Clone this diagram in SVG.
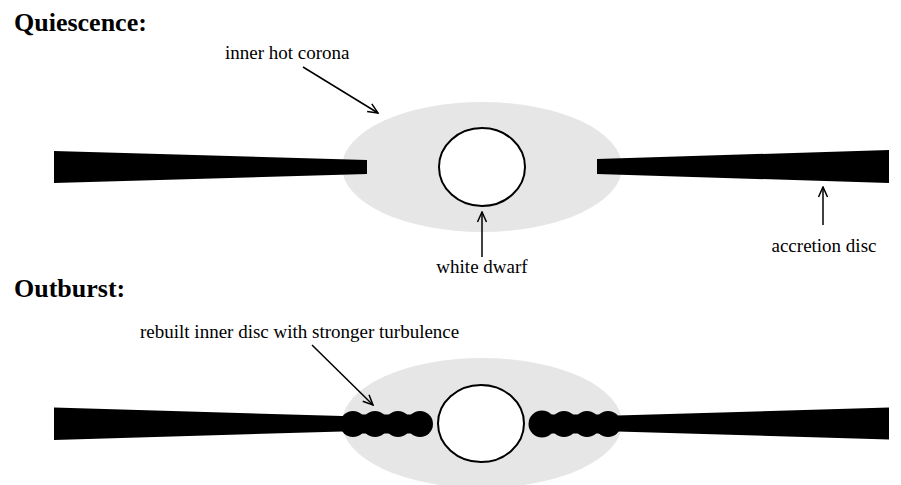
<svg xmlns="http://www.w3.org/2000/svg" width="901" height="485" viewBox="0 0 901 485">
  <defs>
    <style>
      .title { font-family: "Liberation Serif", "Times New Roman", serif; font-weight: bold; font-size: 26px; fill: #000; }
      .label { font-family: "Liberation Serif", "Times New Roman", serif; font-size: 19px; fill: #000; }
      .corona { fill: #e6e6e6; }
      .dwarf { fill: #fff; stroke: #000; stroke-width: 2; }
      .disc { fill: #000; }
      .conn { stroke: #000; stroke-width: 1.5; fill: none; marker-end: url(#arrow); }
    </style>
    <marker id="arrow" viewBox="0 0 12 12" refX="11" refY="6" markerWidth="12" markerHeight="12" markerUnits="userSpaceOnUse" orient="auto">
      <path d="M1,1.5 L11,6 L1,10.5" fill="none" stroke="#000" stroke-width="1.5"/>
    </marker>
  </defs>
  <rect width="901" height="485" fill="#fff"/>

  <!-- Quiescence state -->
  <text class="title" x="14" y="31">Quiescence:</text>
  <g id="corona-quiescence">
    <ellipse class="corona" cx="482" cy="167" rx="140" ry="65"/>
  </g>
  <g id="disc-left-quiescence">
    <polygon class="disc" points="54,151 367,160 367,174 54,183"/>
  </g>
  <g id="disc-right-quiescence">
    <polygon class="disc" points="597,159 889,150 889,183 597,174"/>
  </g>
  <g id="dwarf-quiescence">
    <ellipse class="dwarf" cx="482" cy="167" rx="43" ry="39"/>
  </g>
  <g id="label-corona"><text class="label" x="225" y="59">inner hot corona</text></g>
  <g id="label-dwarf"><text class="label" x="482" y="273" text-anchor="middle">white dwarf</text></g>
  <g id="label-disc"><text class="label" x="824" y="252" text-anchor="middle">accretion disc</text></g>

  <!-- Outburst state -->
  <text class="title" x="14" y="297">Outburst:</text>
  <g id="corona-outburst">
    <ellipse class="corona" cx="482" cy="423" rx="140" ry="65"/>
  </g>
  <!-- turbulent inner disc: overlapping blobs on a thick core -->
  <g id="disc-left-outburst">
    <polygon class="disc" points="54,407.5 360,416.5 360,431 54,440"/>
    <rect class="disc" x="353" y="414.5" width="67" height="19"/>
    <circle class="disc" cx="353" cy="424" r="13"/>
    <circle class="disc" cx="375" cy="424" r="13"/>
    <circle class="disc" cx="398" cy="424" r="13"/>
    <circle class="disc" cx="420" cy="424" r="13"/>
  </g>
  <g id="disc-right-outburst">
    <polygon class="disc" points="600,416 889,407.5 889,439.5 600,431"/>
    <rect class="disc" x="542" y="414.5" width="66" height="19"/>
    <circle class="disc" cx="542" cy="424" r="13.5"/>
    <circle class="disc" cx="564" cy="424" r="13"/>
    <circle class="disc" cx="587" cy="424" r="13"/>
    <circle class="disc" cx="608" cy="424" r="13"/>
  </g>
  <g id="dwarf-outburst">
    <ellipse class="dwarf" cx="481" cy="423.5" rx="43" ry="38.5"/>
  </g>
  <g id="label-turbulence"><text class="label" x="140" y="338">rebuilt inner disc with stronger turbulence</text></g>

  <!-- Pointer arrows -->
  <g id="connectors">
    <line class="conn" x1="303" y1="67" x2="378" y2="113"/>
    <line class="conn" x1="482" y1="257" x2="482" y2="212"/>
    <line class="conn" x1="823" y1="225" x2="823" y2="187"/>
    <line class="conn" x1="312" y1="345" x2="373" y2="405"/>
  </g>
</svg>
